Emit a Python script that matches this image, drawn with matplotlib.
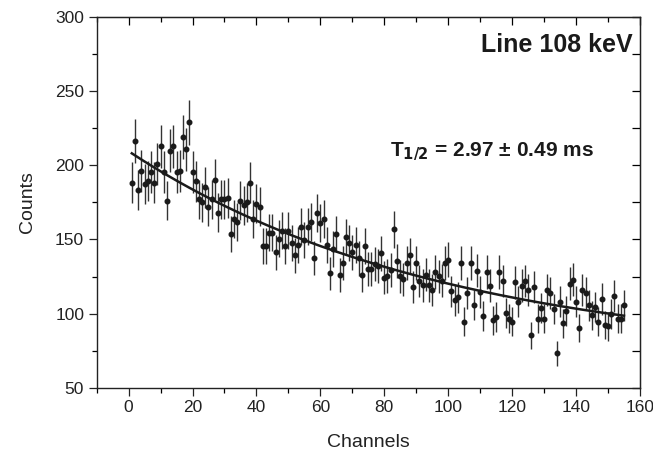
import numpy as np
import matplotlib
matplotlib.use("Agg")
import matplotlib.pyplot as plt

plt.rcParams["font.family"] = ["Liberation Sans", "DejaVu Sans"]

# channel numbers and counts
channels = np.arange(1, 156)
counts = [
    188.2, 216.5, 183.3, 196.3, 187.3, 189.4, 195.4, 188.2, 200.6, 212.7,
    195.4, 176.1, 209.6, 212.7, 195.4, 196.3, 218.8, 210.7, 228.9, 195.4,
    189.2, 177.0, 175.0, 185.1, 171.9, 177.0, 190.2, 168.0, 177.0, 177.0,
    178.1, 153.7, 163.8, 161.8, 176.1, 173.0, 175.0, 188.2, 163.8, 174.1,
    172.1, 145.4, 145.4, 154.5, 154.5, 141.3, 150.5, 155.8, 145.4, 155.8,
    147.6, 139.3, 146.5, 158.6, 149.6, 158.6, 161.8, 137.5, 167.8, 160.9,
    163.8, 146.5, 127.2, 143.4, 153.7, 126.1, 134.3, 151.7, 147.6, 141.3,
    146.5, 137.3, 126.1, 145.6, 130.3, 130.3, 133.5, 132.3, 140.7, 124.2,
    125.4, 129.4, 156.8, 135.5, 125.2, 123.2, 134.3, 139.5, 118.0, 134.3,
    122.0, 119.1, 126.3, 119.1, 116.0, 128.3, 125.2, 122.2, 134.3, 136.4,
    115.0, 109.0, 111.0, 134.3, 94.6, 113.9, 134.3, 105.8, 129.1, 114.5,
    98.6, 128.2, 119.0, 95.7, 97.8, 128.1, 122.0, 100.7, 96.6, 94.6,
    121.1, 108.1, 118.9, 122.0, 116.0, 85.5, 118.0, 96.6, 104.0, 96.6,
    116.0, 114.1, 102.9, 73.3, 108.1, 93.5, 101.8, 120.2, 122.9, 108.1,
    90.6, 116.0, 114.1, 105.7, 98.9, 104.7, 94.6, 109.9, 92.4, 91.5,
    99.6, 111.9, 96.6, 96.6, 105.7,
]
counts = np.array(counts)
errors = np.sqrt(counts)  # Poisson errors

# exponential fit: offset + amplitude * exp(-x / tau)
fit_offset = 70.0
fit_amp = 139.4
fit_tau = 98.0
fit_x = np.linspace(1, 155, 300)
fit_y = fit_offset + fit_amp * np.exp(-fit_x / fit_tau)

fig = plt.figure(figsize=(6.53, 4.63), dpi=100)
ax = fig.add_axes([0.148, 0.162, 0.832, 0.802])

ax.errorbar(channels, counts, yerr=errors, fmt="o", ms=3.3, color="#1a1a1a",
            ecolor="#333333", elinewidth=1.0, capsize=0, zorder=2)
ax.plot(fit_x, fit_y, color="#1a1a1a", lw=1.8, zorder=3)

ax.set_xlim(-10, 160)
ax.set_ylim(50, 300)
ax.set_xticks(np.arange(0, 161, 20))
ax.set_xticks(np.arange(-10, 161, 10), minor=True)
ax.set_yticks(np.arange(50, 301, 50))
ax.set_yticks(np.arange(50, 301, 25), minor=True)
ax.tick_params(which="major", direction="out", length=6, width=0.9, labelsize=12.5,
               colors="#222222", pad=3)
ax.tick_params(which="minor", direction="out", length=3.5, width=0.9)
ax.tick_params(which="both", top=False, right=False)

# mirrored inward ticks on top and right
sec_x = ax.secondary_xaxis("top")
sec_x.set_xticks(np.arange(0, 161, 20))
sec_x.set_xticks(np.arange(-10, 161, 10), minor=True)
sec_x.tick_params(which="major", direction="in", length=6, width=0.9, labeltop=False)
sec_x.tick_params(which="minor", direction="in", length=3.5, width=0.9)
sec_y = ax.secondary_yaxis("right")
sec_y.set_yticks(np.arange(50, 301, 50))
sec_y.set_yticks(np.arange(50, 301, 25), minor=True)
sec_y.tick_params(which="major", direction="in", length=6, width=0.9, labelright=False)
sec_y.tick_params(which="minor", direction="in", length=6, width=0.9)

for s in ax.spines.values():
    s.set_linewidth(1.0)
    s.set_color("#222222")

ax.set_xlabel("Channels", fontsize=14, labelpad=13, color="#222222")
ax.set_ylabel("Counts", fontsize=14, labelpad=14, color="#222222")

ax.text(0.986, 0.924, "Line 108 keV", transform=ax.transAxes, ha="right", va="center",
        fontsize=18, fontweight="bold", color="#1a1a1a")
ax.text(0.54, 0.636, r"T$_{\mathbf{1/2}}$ = 2.97 ± 0.49 ms", transform=ax.transAxes,
        ha="left", va="center", fontsize=15, fontweight="bold", color="#1a1a1a")

fig.savefig("out.png", dpi=100)
